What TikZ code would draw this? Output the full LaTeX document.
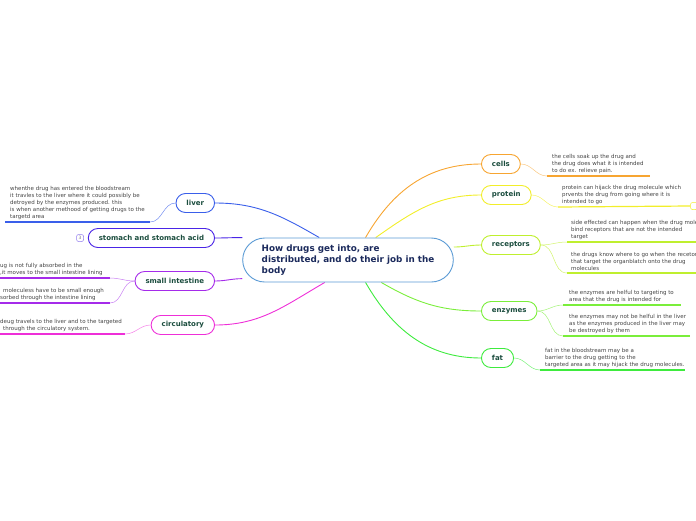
\documentclass[tikz,border=0pt]{standalone}
\usepackage{fontspec}
\setmainfont{DejaVu Sans}
\usetikzlibrary{positioning}
\usetikzlibrary{backgrounds}

\definecolor{hubblue}{HTML}{5B9BD5}
\definecolor{hubtext}{HTML}{1B2A5C}
\definecolor{topictext}{HTML}{1B4D3E}
\definecolor{leafgray}{HTML}{444444}
\definecolor{cellsc}{HTML}{F7A531}
\definecolor{proteinc}{HTML}{F2EE2A}
\definecolor{receptc}{HTML}{BFEF2E}
\definecolor{enzymec}{HTML}{7AEE3A}
\definecolor{fatc}{HTML}{3EEB3E}
\definecolor{liverc}{HTML}{3A5FEA}
\definecolor{stomachc}{HTML}{4A25E6}
\definecolor{intestc}{HTML}{A52BEA}
\definecolor{circc}{HTML}{EE2FD8}

\begin{document}
\begin{tikzpicture}[
        x=1pt, y=-1pt,
        % Standard style for the mind map boxes
        hub/.style={
            draw=hubblue,
            fill=white,
            line width=0.9pt,
            rounded corners=22pt,
            minimum height=44pt,
            inner xsep=19pt,
            align=left,
            font=\fontsize{8.8}{11}\selectfont\bfseries,
            text=hubtext
        },
        topic/.style={
            draw,
            fill=white,
            line width=0.9pt,
            rounded corners=9.5pt,
            minimum height=19pt,
            inner xsep=10.5pt,
            font=\fontsize{7}{8}\selectfont\bfseries,
            text=topictext,
            anchor=west
        },
        lefttopic/.style={topic, anchor=east},
        leaftext/.style={
            inner sep=0pt, align=left,
            font=\fontsize{5.5}{6.8}\selectfont,
            text=leafgray
        },
        badge/.style={
            draw, fill=white, rounded corners=2pt, line width=0.5pt,
            minimum width=7pt, minimum height=7pt, inner sep=0pt,
            font=\fontsize{4.5}{5}\selectfont, text=gray
        },
        branch/.style={line width=0.9pt},
        twig/.style={line width=0.5pt},
        uline/.style={line width=1.2pt}
        ]

        \useasboundingbox (0,0) rectangle (696,520);

        \node [hub] (hub) at (348,260) {How drugs get into, are\\distributed, and do their job in the\\body};

        % right side
        \node [topic, draw=cellsc] (cells) at (481,164) {cells};
        \node [topic, draw=proteinc] (protein) at (481,195) {protein};
        \node [topic, draw=receptc] (receptors) at (481,245) {receptors};
        \node [topic, draw=enzymec] (enzymes) at (481,311) {enzymes};
        \node [topic, draw=fatc] (fat) at (481,358) {fat};

        % left side
        \node [lefttopic, draw=liverc] (liver) at (215,203) {liver};
        \node [lefttopic, draw=stomachc] (stomach) at (215,238) {stomach and stomach acid};
        \node [badge, draw=stomachc!60, left=4pt of stomach] (stomachB) {3};
        \node [lefttopic, draw=intestc] (intestine) at (215,281) {small intestine};
        \node [lefttopic, draw=circc] (circ) at (215,325) {circulatory};

        % leaf texts
        \coordinate (cellsL) at (547,176);
        \coordinate (cellsR) at (650,176);
        \node [leaftext, above right=2.5pt and 5pt of cellsL] (cellsT) {the cells soak up the drug and\\the drug does what it is intended\\to do ex. relieve pain.};

        \coordinate (proteinL) at (558,207);
        \node [badge, draw=proteinc] (proteinB) at (694,206) {};
        \node [leaftext, above right=2.5pt and 4pt of proteinL] (proteinT) {protein can hijack the drug molecule which\\prvents the drug from going where it is\\intended to go};

        \coordinate (rec1L) at (567,242);
        \coordinate (rec1R) at (700,242);
        \node [leaftext, above right=2.5pt and 4pt of rec1L] (rec1T) {side effected can happen when the drug molecules\\bind receptors that are not the intended\\target};
        \coordinate (rec2L) at (567,273);
        \coordinate (rec2R) at (700,273);
        \node [leaftext, above right=2.5pt and 4pt of rec2L] (rec2T) {the drugs know where to go when the recetors\\that target the organblatch onto the drug\\molecules};

        \coordinate (enz1L) at (563,305);
        \coordinate (enz1R) at (681,305);
        \node [leaftext, above right=2.5pt and 6pt of enz1L] (enz1T) {the enzymes are helful to targeting to\\area that the drug is intended for};
        \coordinate (enz2L) at (563,336);
        \coordinate (enz2R) at (690,336);
        \node [leaftext, above right=2.5pt and 6pt of enz2L] (enz2T) {the enzymes may not be helful in the liver\\as the enzymes produced in the liver may\\be destroyed by them};

        \coordinate (fatL) at (540,370);
        \coordinate (fatR) at (685,370);
        \node [leaftext, above right=2.5pt and 5pt of fatL] (fatT) {fat in the bloodstream may be a\\barrier to the drug getting to the\\targeted area as it may hijack the drug molecules.};

        \coordinate (liverL) at (5,222);
        \coordinate (liverR) at (150,222);
        \node [leaftext, above right=2.5pt and 5pt of liverL] (liverT) {whenthe drug has entered the bloodstream\\it travles to the liver where it could possibly be\\detroyed by the enzymes produced. this\\is when another methood of getting drugs to the\\targetd area};

        \coordinate (int1L) at (0,278);
        \coordinate (int1R) at (110,278);
        \node [leaftext, above right=2.5pt and 0pt of int1L] (int1T) {ug is not fully absorbed in the\\,it moves to the small intestine lining};
        \coordinate (int2L) at (0,303);
        \coordinate (int2R) at (110,303);
        \node [leaftext, above right=2.5pt and 0pt of int2L] (int2T) {\hspace*{3pt}moleculess have to be small enough\\sorbed through the intestine lining};

        \coordinate (circL) at (0,334);
        \coordinate (circR) at (125,334);
        \node [leaftext, above right=2.5pt and 0pt of circL] (circT) {deug travels to the liver and to the targeted\\\hspace*{3pt}through the circulatory system.};

        \begin{scope}[on background layer]
        \draw [branch, cellsc] (hub.52) to[out=60, in=180] (cells.west);
        \draw [branch, proteinc] (hub.39) to[out=35, in=180] (protein.west);
        \draw [branch, receptc] (hub.7) to[out=0, in=180] (receptors.west);
        \draw [branch, enzymec] (hub.-34) to[out=-30, in=180] (enzymes.west);
        \draw [branch, fatc] (hub.-52) to[out=-60, in=180] (fat.west);
        \draw [branch, liverc] (hub.142) to[out=150, in=0] (liver.east);
        \draw [branch, stomachc] (hub.168) to[out=180, in=0] (stomach.east);
        \draw [branch, intestc] (hub.-170) to[out=180, in=0] (intestine.east);
        \draw [branch, circc] (hub.-136) to[out=-150, in=0] (circ.east);

        \draw [twig, cellsc!60] (cells.east) to[out=0, in=180] (cellsL);
        \draw [uline, cellsc] (cellsL) -- (cellsR);
        \draw [twig, proteinc!70] (protein.east) to[out=0, in=180] (proteinL);
        \draw [uline, proteinc] (proteinL) -- (proteinB.west);
        \draw [twig, receptc!70] (receptors.east) to[out=0, in=180] (rec1L);
        \draw [uline, receptc] (rec1L) -- (rec1R);
        \draw [twig, receptc!70] (receptors.east) to[out=0, in=180] (rec2L);
        \draw [uline, receptc] (rec2L) -- (rec2R);
        \draw [twig, enzymec!70] (enzymes.east) to[out=0, in=180] (enz1L);
        \draw [uline, enzymec] (enz1L) -- (enz1R);
        \draw [twig, enzymec!70] (enzymes.east) to[out=0, in=180] (enz2L);
        \draw [uline, enzymec] (enz2L) -- (enz2R);
        \draw [twig, fatc!70] (fat.east) to[out=0, in=180] (fatL);
        \draw [uline, fatc] (fatL) -- (fatR);

        \draw [uline, liverc] (liverL) -- (liverR);
        \draw [twig, liverc!70] (liverR) to[out=0, in=180] (liver.west);
        \draw [uline, intestc] (int1L) -- (int1R);
        \draw [twig, intestc!60] (int1R) to[out=0, in=180] (intestine.west);
        \draw [uline, intestc] (int2L) -- (int2R);
        \draw [twig, intestc!60] (int2R) to[out=0, in=180] (intestine.west);
        \draw [uline, circc] (circL) -- (circR);
        \draw [twig, circc!60] (circR) to[out=0, in=180] (circ.west);
        \end{scope}
\end{tikzpicture}
\end{document}
